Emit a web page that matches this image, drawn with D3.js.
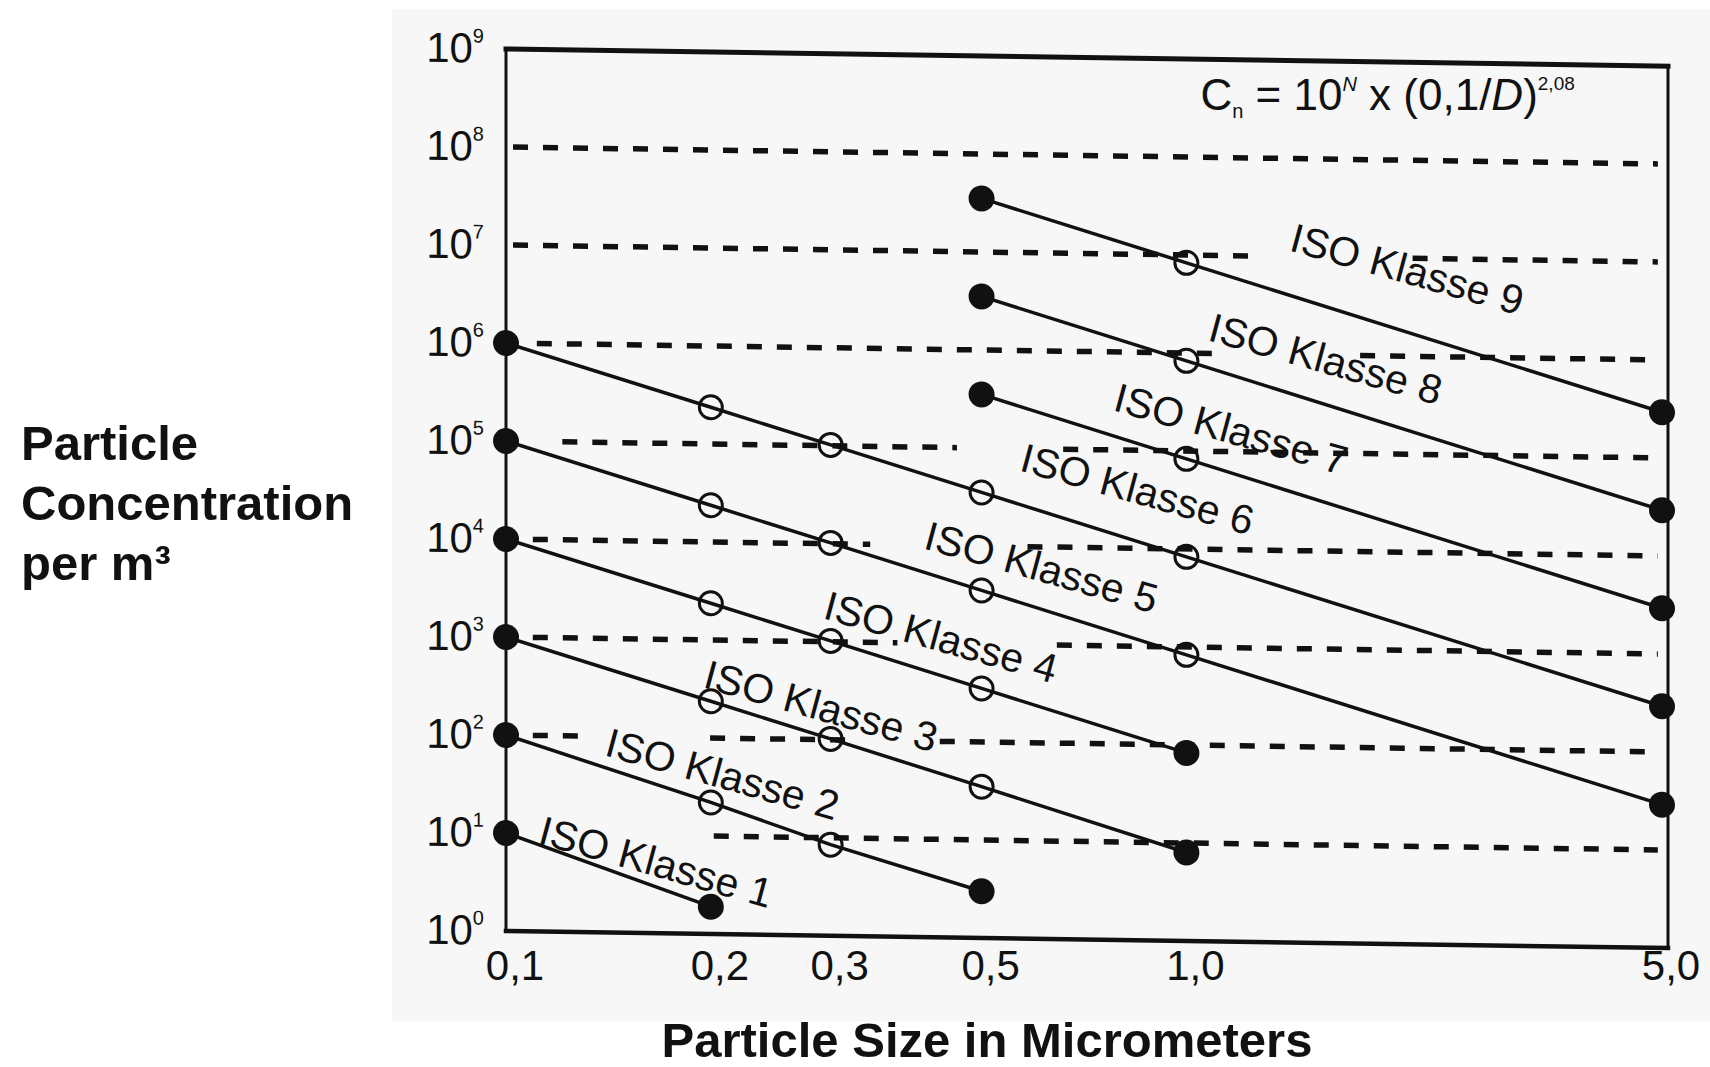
<!DOCTYPE html>
<html lang="de">
<head>
    <meta charset="UTF-8">
    <title>ISO Klassen Partikelkonzentration</title>
    <style>
        body, html {
            margin: 0;
            padding: 0;
            background: #fff;
            overflow: hidden;
        }
        svg text {
            font-family: "Liberation Sans", Arial, Helvetica, sans-serif;
            fill: #111;
        }
    </style>
</head>
<body>
    <svg id="chart" width="1710" height="1067"></svg>

    <script src="https://cdnjs.cloudflare.com/ajax/libs/d3/7.8.5/d3.min.js"></script>
    <script>
        // particle sizes in micrometers
        const sizes = [0.1, 0.2, 0.3, 0.5, 1.0, 5.0];
        const sizeLabels = ["0,1", "0,2", "0,3", "0,5", "1,0", "5,0"];

        // concentration per m3 for every class at every size (null = not drawn)
        const klasse1 = [10, 1.9, null, null, null, null];
        const klasse2 = [100, 22, 8.5, 3, null, null];
        const klasse3 = [1000, 237, 102, 35, 8, null];
        const klasse4 = [10000, 2370, 1020, 352, 83, null];
        const klasse5 = [100000, 23700, 10200, 3520, 832, 29];
        const klasse6 = [1000000, 237000, 102000, 35200, 8320, 293];
        const klasse7 = [null, null, null, 352000, 83200, 2930];
        const klasse8 = [null, null, null, 3520000, 832000, 29300];
        const klasse9 = [null, null, null, 35200000, 8320000, 293000];
        const klassen = [klasse1, klasse2, klasse3, klasse4, klasse5, klasse6, klasse7, klasse8, klasse9];
        const klassenNamen = ["ISO Klasse 1", "ISO Klasse 2", "ISO Klasse 3", "ISO Klasse 4", "ISO Klasse 5",
                              "ISO Klasse 6", "ISO Klasse 7", "ISO Klasse 8", "ISO Klasse 9"];

        // where each class label starts (size, concentration)
        const labelSize = [0.111, 0.139, 0.194, 0.291, 0.409, 0.566, 0.777, 1.07, 1.41];
        const labelConc = [8.0, 64.6, 330, 1740, 9300, 60000, 255000, 1370000, 11600000];

        // y axis: powers of ten
        const yTickExp = [0, 1, 2, 3, 4, 5, 6, 7, 8, 9];

        // dashed lines at 10^1..10^8, drawn only over these size ranges
        const gridExp = [1, 2, 3, 4, 5, 6, 7, 8];
        const gridRuns = [
            [[0.202, 4.93]],
            [[0.1095, 0.133], [0.1995, 0.326], [0.434, 4.93]],
            [[0.1095, 0.376], [0.645, 4.93]],
            [[0.1095, 0.343], [0.584, 4.93]],
            [[0.121, 0.46], [0.659, 4.93]],
            [[0.111, 1.11], [1.80, 4.93]],
            [[0.1024, 1.24], [2.15, 4.93]],
            [[0.1024, 4.93]]
        ];

        const svg = d3.select("#chart");

        const x = d3.scaleLog().domain([0.1, 5]).range([506, 1662]);
        const y = d3.scaleLog().domain([1, 1e9]).range([931, 49]);

        // the scanned original is slightly tilted, right side lower
        const tilt = Math.atan(17 / 1156) * 180 / Math.PI;
        const x0 = x(0.1);

        // grey scan background
        svg.append("rect")
            .attr("x", 392).attr("y", 9)
            .attr("width", 1318).attr("height", 1012)
            .attr("fill", "#f7f7f7");

        const plot = svg.append("g")
            .attr("transform", `translate(${x0},0) skewY(${tilt}) translate(${-x0},0)`);

        // dashed reference lines
        gridExp.forEach((e, i) => {
            gridRuns[i].forEach(run => {
                plot.append("line")
                    .attr("x1", x(run[0])).attr("x2", x(run[1]))
                    .attr("y1", y(Math.pow(10, e))).attr("y2", y(Math.pow(10, e)))
                    .attr("stroke", "#111")
                    .attr("stroke-width", 5.5)
                    .attr("stroke-dasharray", "15 15");
            });
        });

        // frame
        const xr = x(5) + 6;
        const frame = [
            [x0, y(1e9), xr, y(1e9), 5],
            [x0, y(1), xr, y(1), 4.5],
            [x0, y(1e9), x0, y(1), 3],
            [xr, y(1e9), xr, y(1), 3]
        ];
        plot.selectAll(".frame")
            .data(frame)
            .enter().append("line")
            .attr("x1", d => d[0]).attr("y1", d => d[1])
            .attr("x2", d => d[2]).attr("y2", d => d[3])
            .attr("stroke", "#111")
            .attr("stroke-width", d => d[4])
            .attr("stroke-linecap", "square");

        // class lines and points
        const line = d3.line()
            .defined(d => d.c != null)
            .x(d => x(d.s))
            .y(d => y(d.c));

        klassen.forEach(values => {
            const pts = values.map((c, i) => ({ s: sizes[i], c: c }));
            const idx = values.map((c, i) => c == null ? -1 : i).filter(i => i >= 0);
            const isEnd = p => p.s === sizes[idx[0]] || p.s === sizes[idx[idx.length - 1]];

            plot.append("path")
                .datum(pts)
                .attr("d", line)
                .attr("fill", "none")
                .attr("stroke", "#111")
                .attr("stroke-width", 3.5);

            plot.selectAll(null)
                .data(pts.filter(p => p.c != null))
                .enter().append("circle")
                .attr("cx", p => x(p.s))
                .attr("cy", p => y(p.c))
                .attr("r", p => isEnd(p) ? 13 : 11.5)
                .attr("fill", p => isEnd(p) ? "#111" : "none")
                .attr("stroke", "#111")
                .attr("stroke-width", p => isEnd(p) ? 0 : 3);
        });

        // class labels along the lines
        klassenNamen.forEach((name, i) => {
            plot.append("text")
                .attr("transform", `translate(${x(labelSize[i])},${y(labelConc[i])}) rotate(15)`)
                .attr("font-size", 41)
                .text(name);
        });

        // y tick labels 10^n
        yTickExp.forEach(e => {
            const t = plot.append("text")
                .attr("x", x0 - 22)
                .attr("y", y(Math.pow(10, e)) + 14)
                .attr("text-anchor", "end")
                .attr("font-size", 42);
            t.append("tspan").text("10");
            t.append("tspan")
                .attr("dy", -20)
                .attr("font-size", 20)
                .text(e);
        });

        // x tick labels
        svg.selectAll(".xtick")
            .data(sizes)
            .enter().append("text")
            .attr("x", d => x(d) + 9)
            .attr("y", y(1) + 49)
            .attr("text-anchor", "middle")
            .attr("font-size", 42)
            .text((d, i) => sizeLabels[i]);

        // formula
        const f = svg.append("text")
            .attr("x", x(1) + 14)
            .attr("y", y(1e9) + 61)
            .attr("font-size", 44);
        f.append("tspan").text("C");
        f.append("tspan").attr("font-size", 20).attr("dy", 8).text("n");
        f.append("tspan").attr("dy", -8).text(" = 10");
        f.append("tspan").attr("font-size", 20).attr("font-style", "italic").attr("dy", -19).text("N");
        f.append("tspan").attr("dy", 19).text(" x (0,1/");
        f.append("tspan").attr("font-style", "italic").text("D");
        f.append("tspan").text(")");
        f.append("tspan").attr("font-size", 19).attr("dy", -20).text("2,08");

        // axis titles
        const yTitle = ["Particle", "Concentration", "per m³"];
        svg.selectAll(".ytitle")
            .data(yTitle)
            .enter().append("text")
            .attr("x", 21)
            .attr("y", (d, i) => 460 + i * 60)
            .attr("font-size", 49)
            .attr("font-weight", "bold")
            .text(d => d);

        svg.append("text")
            .attr("x", 987)
            .attr("y", 1057)
            .attr("text-anchor", "middle")
            .attr("font-size", 49)
            .attr("font-weight", "bold")
            .text("Particle Size in Micrometers");
    </script>
</body>
</html>
